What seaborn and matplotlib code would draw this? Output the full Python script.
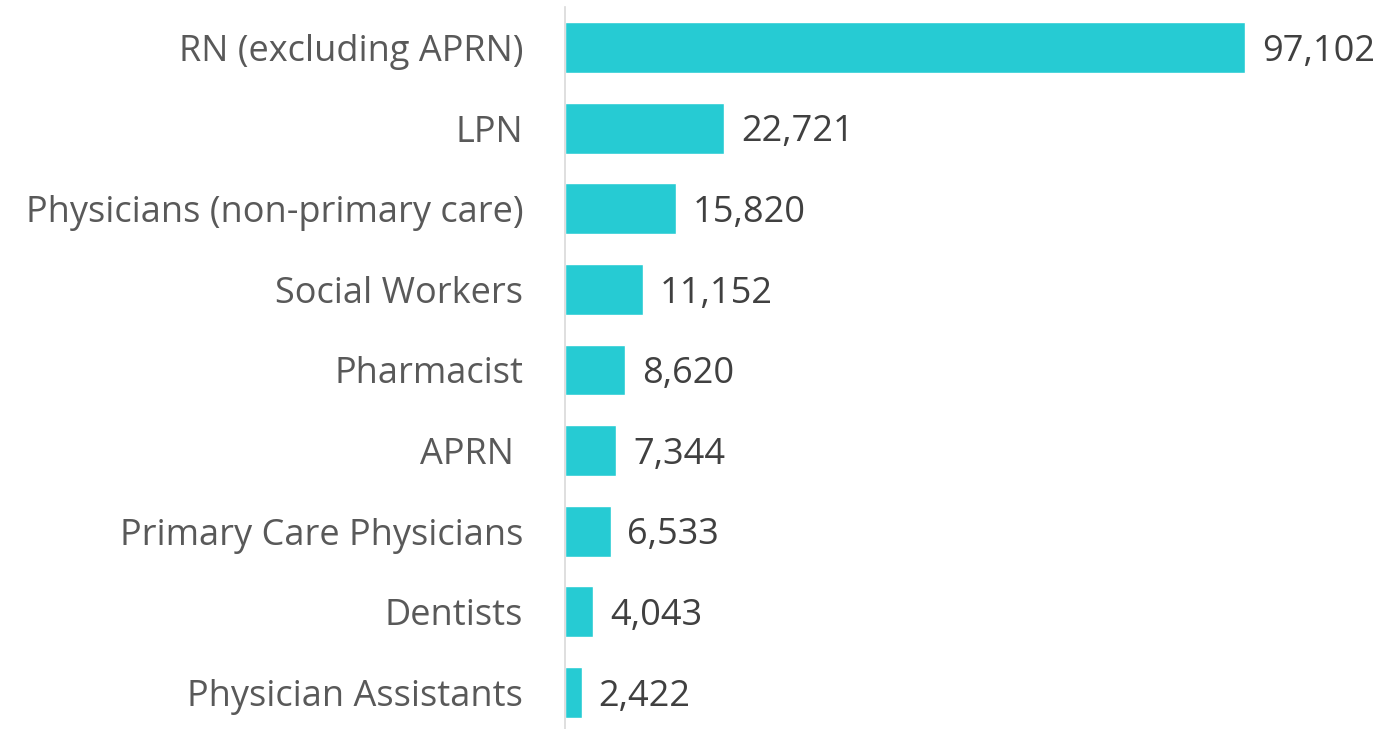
import matplotlib
matplotlib.use("Agg")
import matplotlib.pyplot as plt
import seaborn as sns
import pandas as pd

# Workforce counts by profession
professions = ['RN (excluding APRN)', 'LPN', 'Physicians (non-primary care)',
               'Social Workers', 'Pharmacist', 'APRN ', 'Primary Care Physicians',
               'Dentists', 'Physician Assistants']
counts = [97102, 22721, 15820, 11152, 8620, 7344, 6533, 4043, 2422]

sns.set_theme(style="white")
plt.rcParams['font.family'] = ['Open Sans', 'DejaVu Sans']

df = pd.DataFrame({'Profession': professions, 'Count': counts})

fig = plt.figure(figsize=(13.85, 7.29), dpi=100)
ax = fig.add_axes([565 / 1385, -3.8 / 729, 820 / 1385, 725.6 / 729])

sns.barplot(data=df, x='Count', y='Profession', color='#26CBD3',
            saturation=1, width=0.63, ax=ax)

ax.set_xlim(0, 117100)
ax.set_xlabel('')
ax.set_ylabel('')
ax.set_xticks([])
ax.tick_params(axis='y', length=0, pad=30, labelsize=26, labelcolor='#595959')

for s in ['top', 'right', 'bottom']:
    ax.spines[s].set_visible(False)
ax.spines['left'].set_color('#D9D9D9')
ax.spines['left'].set_linewidth(1.2)

for i, v in enumerate(counts):
    ax.annotate(f'{v:,}', (v, i), xytext=(12, -3), textcoords='offset points',
                ha='left', va='center', fontsize=26, color='#404040')

fig.savefig('out.png', dpi=100)
